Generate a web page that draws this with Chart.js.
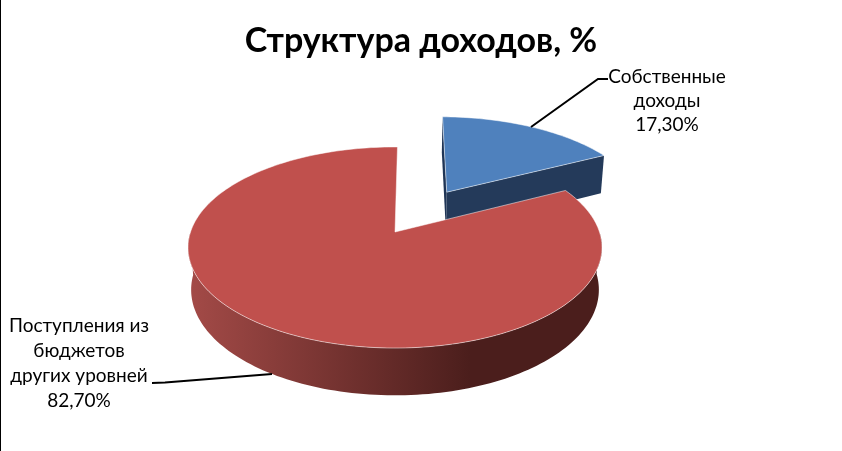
<!DOCTYPE html>
<html>
<head>
<meta charset="utf-8">
<style>
body { margin: 0; background: #fff; }
canvas { display: block; }
</style>
<script src="https://cdn.jsdelivr.net/npm/chart.js@4"></script>
</head>
<body>
<canvas id="myChart" width="842" height="451"></canvas>
<script>
const titleText = 'Структура доходов, %';
const categories = ['Собственные доходы', 'Поступления из бюджетов других уровней'];
const shares = [17.3, 82.7];
const shareLabels = ['17,30%', '82,70%'];
const labelLines = [['Собственные', 'доходы'], ['Поступления из', 'бюджетов', 'других уровней']];

const topColors = ['#4F81BD', '#C0504D'];
const labelFont = '19px Lato';

// fake 3d: tilted, with perspective, same numbers as the old office chart
const tilt = 0.48;
const persp = 0.154;
const lowScale = 0.985;
const depth = 41.5;
const explode = [0.51, 0];
const shiftX = -26; // pie sits left of the title centre

const project = (el, u, v, low) => {
    const w = 1 - persp * v;
    const s = low ? lowScale : 1;
    const d = low ? depth : 0;
    return {
        x: el.x + shiftX + el.outerRadius * s * u / w,
        y: el.y + (el.outerRadius * tilt * s * v + d) / w
    };
};

const slicePoints = (el, i, low) => {
    const mid = (el.startAngle + el.endAngle) / 2;
    const du = explode[i] * Math.cos(mid);
    const dv = explode[i] * Math.sin(mid);
    const rim = [];
    const steps = Math.ceil((el.endAngle - el.startAngle) * 40);
    for (let n = 0; n <= steps; n++) {
        const a = el.startAngle + (el.endAngle - el.startAngle) * n / steps;
        rim.push({ a: a, v: Math.sin(a) + dv, p: project(el, Math.cos(a) + du, Math.sin(a) + dv, low) });
    }
    return { apex: project(el, du, dv, low), rim: rim };
};

const fillPoly = (ctx, pts, fill) => {
    ctx.beginPath();
    pts.forEach((p, n) => n ? ctx.lineTo(p.x, p.y) : ctx.moveTo(p.x, p.y));
    ctx.closePath();
    ctx.fillStyle = fill;
    ctx.fill();
};

const drawTop = (ctx, el, i) => {
    const top = slicePoints(el, i, false);
    const pts = [top.apex].concat(top.rim.map(r => r.p));
    fillPoly(ctx, pts, topColors[i]);
    ctx.strokeStyle = 'rgba(255,255,255,0.5)';
    ctx.lineWidth = 1;
    ctx.stroke();
};

const pie3d = {
    id: 'pie3d',
    beforeDatasetDraw(chart) {
        const ctx = chart.ctx;
        const [blue, red] = chart.getDatasetMeta(0).data;
        ctx.save();

        // blue piece first, red one sits in front of it
        const bTop = slicePoints(blue, 0, false);
        const bLow = slicePoints(blue, 0, true);
        const bEnd = bTop.rim.length - 1;
        fillPoly(ctx, [bTop.apex, bTop.rim[0].p, bLow.rim[0].p, bLow.apex], '#1F3556');
        fillPoly(ctx, [bTop.apex, bTop.rim[bEnd].p, bLow.rim[bEnd].p, bLow.apex], '#243A5A');
        drawTop(ctx, blue, 0);

        // red outer wall
        const rTop = slicePoints(red, 1, false).rim.filter(r => r.v > 0);
        const rLow = slicePoints(red, 1, true).rim.filter(r => r.v > 0);
        const grad = ctx.createLinearGradient(190, 0, 470, 0);
        grad.addColorStop(0, '#A34A47');
        grad.addColorStop(1, '#4B1E1C');
        fillPoly(ctx, rTop.map(r => r.p).concat(rLow.map(r => r.p).reverse()), grad);
        drawTop(ctx, red, 1);

        ctx.restore();
        return false;
    },
    afterDraw(chart) {
        const ctx = chart.ctx;
        ctx.save();

        // leader lines
        ctx.strokeStyle = '#000';
        ctx.lineWidth = 2;
        ctx.beginPath();
        ctx.moveTo(531, 127);
        ctx.lineTo(598, 79);
        ctx.lineTo(608, 79);
        ctx.moveTo(272, 374);
        ctx.lineTo(165, 382.5);
        ctx.lineTo(152, 383);
        ctx.stroke();

        // data labels
        ctx.fillStyle = '#000';
        ctx.font = labelFont;
        ctx.textAlign = 'center';
        ctx.textBaseline = 'middle';
        labelLines[0].concat(shareLabels[0]).forEach((t, n) => ctx.fillText(t, 667, 77 + n * 24));
        labelLines[1].concat(shareLabels[1]).forEach((t, n) => ctx.fillText(t, 79, 326 + n * 25));

        // black strip on the left edge of the picture
        ctx.fillStyle = '#000';
        ctx.fillRect(0, 0, 1, 451);
        ctx.restore();
    }
};

const ctx = document.getElementById('myChart').getContext('2d');
let myChart = new Chart(ctx, {
    type: 'pie',
    data: {
        labels: categories,
        datasets: [
            {
                data: shares,
                backgroundColor: topColors,
                borderWidth: 0
            }
        ]
    },
    options: {
        rotation: 0.8,
        responsive: false,
        animation: false,
        layout: { padding: { left: 0, top: 0, right: 0, bottom: 14.5 } },
        plugins: {
            legend: { display: false },
            tooltip: { enabled: false },
            title: {
                display: true,
                text: titleText,
                color: '#000',
                font: { family: 'Lato', size: 34, weight: 'bold', lineHeight: 1.2 },
                padding: { top: 20.6, bottom: -33.9 }
            }
        }
    },
    plugins: [pie3d]
});
</script>
</body>
</html>
